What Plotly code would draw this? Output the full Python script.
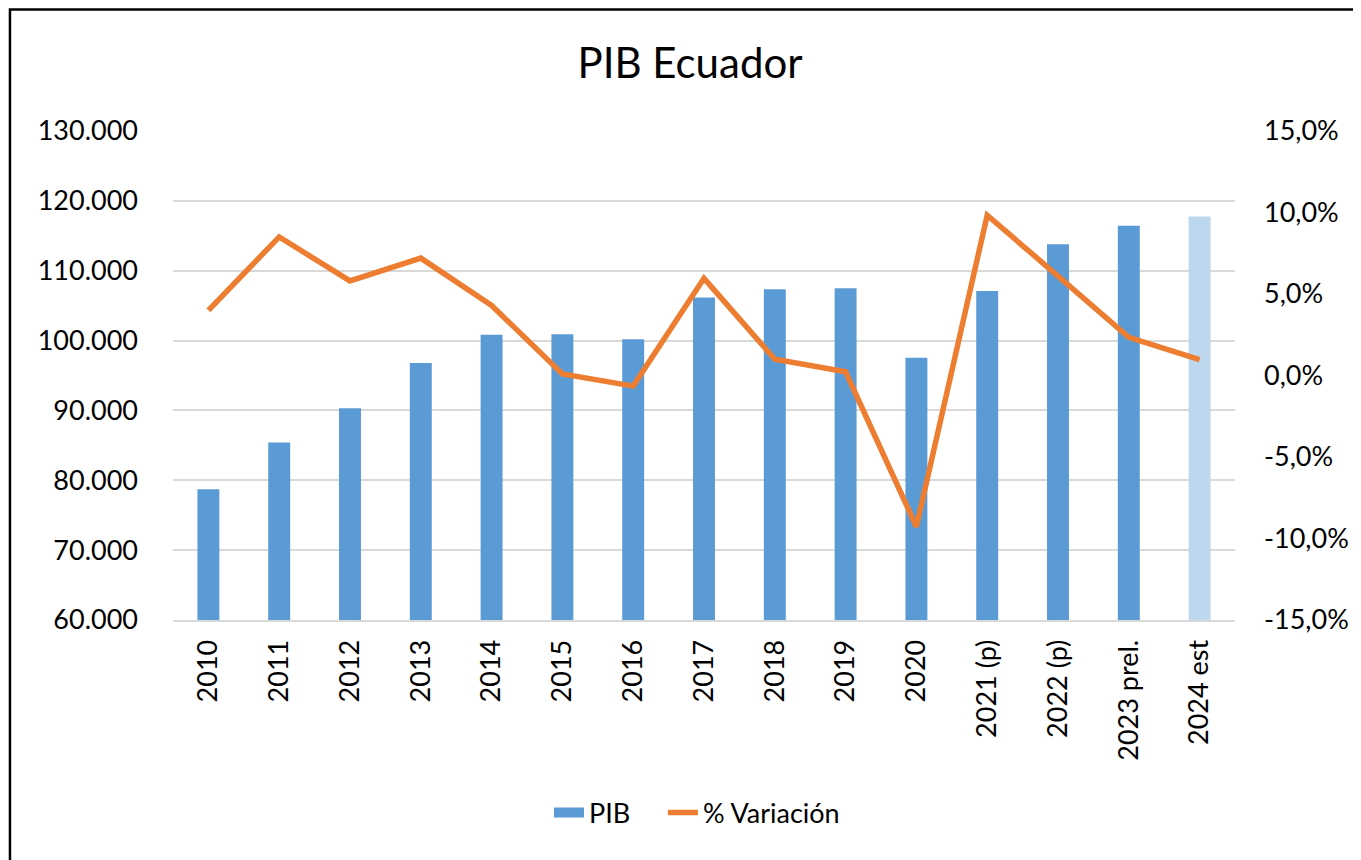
import plotly.graph_objects as go

categories = ["2010", "2011", "2012", "2013", "2014", "2015", "2016", "2017",
              "2018", "2019", "2020", "2021 (p)", "2022 (p)", "2023 prel.", "2024 est"]
pib = [78700, 85400, 90300, 96800, 100850, 100900, 100200, 106150,
       107350, 107500, 97550, 107100, 113800, 116450, 117750]
variacion = [0.040, 0.085, 0.058, 0.072, 0.043, 0.001, -0.0065, 0.0596,
             0.010, 0.0023, -0.0928, 0.0983, 0.061, 0.0234, 0.0098]
left_ticks = [60000, 70000, 80000, 90000, 100000, 110000, 120000, 130000]
right_ticks = [-0.15, -0.10, -0.05, 0.0, 0.05, 0.10, 0.15]
right_ticktext = [("%.1f%%" % (v * 100)).replace(".", ",") for v in right_ticks]

bar_color = "#5B9BD5"
est_color = "#BDD7EE"
line_color = "#ED7D31"
bar_colors = [bar_color] * (len(categories) - 1) + [est_color]

FONT = "Lato"
FS = 27

fig = go.Figure()
# legend entry for the bars (wide swatch like the original)
fig.add_trace(go.Scatter(
    x=[categories[0]], y=[None], name="PIB" + "\u00a0" * 4, mode="lines",
    line=dict(color=bar_color, width=17), yaxis="y", hoverinfo="skip",
))
fig.add_trace(go.Bar(
    x=categories, y=pib, name="PIB", showlegend=False,
    marker=dict(color=bar_colors, line=dict(width=0)),
    yaxis="y",
))
fig.add_trace(go.Scatter(
    x=categories, y=variacion, name="% Variación", mode="lines",
    line=dict(color=line_color, width=5.5),
    yaxis="y2",
))

OFF = 8  # page body margin
W, H = 1361 - OFF, 860 - OFF
L, T = 173 - OFF, 131 - OFF
PR, PB = 1238 - OFF, 620 - OFF
R, B = W - PR, H - PB
pw, ph = W - L - R, H - T - B

fig.update_layout(
    width=W, height=H,
    margin=dict(l=L, r=R, t=T, b=B),
    paper_bgcolor="white", plot_bgcolor="white",
    separators=",.",
    font=dict(family=FONT, size=FS, color="#000000"),
    title=dict(text="PIB Ecuador", x=(690 - OFF) / W, xanchor="center",
               y=1 - (63 - OFF) / H, yanchor="middle", yref="container",
               font=dict(family=FONT, size=42, color="#000000")),
    bargap=0.69,
    showlegend=True,
    legend=dict(orientation="h", x=(697 - OFF) / W, xanchor="center", xref="container",
                y=1 - (813 - OFF) / H, yanchor="middle", yref="container",
                font=dict(family=FONT, size=FS, color="#000000"),
                traceorder="normal"),
    xaxis=dict(
        type="category", tickangle=-90, showgrid=False,
        showline=True, linecolor="#D9D9D9", linewidth=2,
        ticks="", ticklabelstandoff=7,
        tickfont=dict(family=FONT, size=FS, color="#000000"),
    ),
    yaxis=dict(
        range=[60000, 130000], tickvals=left_ticks, tickformat=",d",
        showgrid=True, gridcolor="#D9D9D9", gridwidth=2,
        zeroline=False, showline=False, ticks="", ticklabelstandoff=34,
        tickfont=dict(family=FONT, size=FS, color="#000000"),
    ),
    yaxis2=dict(
        range=[-0.15, 0.15], tickvals=right_ticks, ticktext=right_ticktext,
        overlaying="y", side="right", showgrid=False, zeroline=False,
        showline=False, ticks="", ticklabelstandoff=28,
        tickfont=dict(family=FONT, size=FS, color="#000000"),
    ),
    shapes=[dict(
        type="rect", xref="paper", yref="paper",
        x0=(1.5 - L) / pw, x1=(W + 6 - L) / pw,
        y0=(PB - H - 6) / ph, y1=(PB - 1.5) / ph,
        line=dict(color="#000000", width=2.5), fillcolor="rgba(0,0,0,0)",
        layer="above",
    )],
)

fig.write_html("out.html")
